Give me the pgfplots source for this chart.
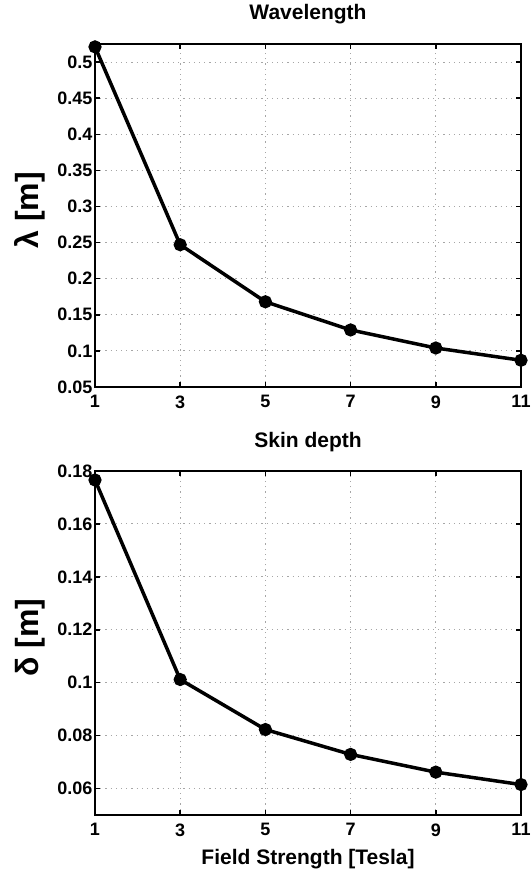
\documentclass[border=0pt]{standalone}
\usepackage{pgfplots}
\pgfplotsset{compat=1.18}
\usepackage{fontspec}
\setmainfont{Liberation Sans}
\begin{document}
\begin{tikzpicture}[x=1pt,y=1pt]
\path[use as bounding box] (0,0) rectangle (530,880);
\pgfplotsset{
 common/.style={
  anchor=south west,
  scale only axis, width=426pt,
  xmin=1, xmax=11, xtick={1,3,5,7,9,11},
  axis line style={line width=2.8pt},
  tick style={line width=1.5pt, black}, tick align=inside, major tick length=5pt,
  grid=major, major grid style={dash pattern=on 1.2pt off 4pt, gray!70, line width=1pt},
  ticklabel style={font=\fontsize{18}{20}\selectfont\bfseries},
  xticklabel style={yshift=-5pt},
  yticklabel style={xshift=1pt},
  /pgf/number format/assume math mode=true,
  /pgf/number format/fixed, /pgf/number format/precision=2,
  title style={anchor=base, font=\fontsize{21}{24}\selectfont\bfseries},
  xlabel style={at={(axis description cs:0.5,-0.143)}, anchor=base, font=\fontsize{21}{24}\selectfont\bfseries},
  ylabel style={at={(axis description cs:-0.153,0.515)}, anchor=center, rotate=0, font=\fontsize{32}{34}\selectfont\bfseries},
  clip=false,
 }
}
\begin{axis}[common, at={(95pt,493pt)}, height=343pt,
  ymin=0.05, ymax=0.525, ytick={0.05,0.1,0.15,0.2,0.25,0.3,0.35,0.4,0.45,0.5},
  title style={at={(axis description cs:0.5,1.055)}},
  title={Wavelength}, ylabel={λ [m]}]
\addplot[black, line width=3.5pt, mark=*, mark size=4.8pt, mark options={fill=black, solid}]
  coordinates {(1,0.521) (3,0.247) (5,0.168) (7,0.129) (9,0.104) (11,0.087)};
\end{axis}
\begin{axis}[common, at={(95pt,65pt)}, height=344pt,
  ymin=0.05, ymax=0.18, ytick={0.06,0.08,0.1,0.12,0.14,0.16,0.18},
  title style={at={(axis description cs:0.5,1.052)}},
  title={Skin depth}, ylabel={δ [m]}, xlabel={Field Strength [Tesla]}]
\addplot[black, line width=3.5pt, mark=*, mark size=4.8pt, mark options={fill=black, solid}]
  coordinates {(1,0.1766) (3,0.1012) (5,0.0823) (7,0.0729) (9,0.0662) (11,0.0615)};
\end{axis}
\end{tikzpicture}
\end{document}
